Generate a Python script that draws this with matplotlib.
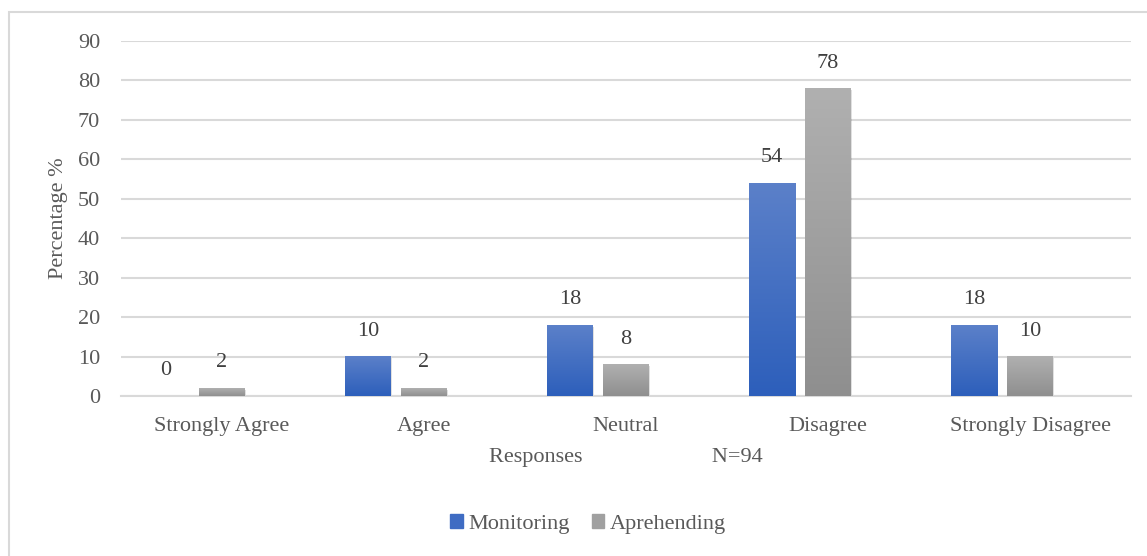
import numpy as np
import matplotlib
matplotlib.use('Agg')
import matplotlib.pyplot as plt
from matplotlib.patches import Rectangle

# 데이터
categories = ['Strongly Agree', 'Agree', 'Neutral', 'Disagree', 'Strongly Disagree']
monitoring = [0, 10, 18, 54, 18]
aprehending = [2, 2, 8, 78, 10]

plt.rcParams['font.family'] = ['Liberation Serif', 'DejaVu Serif']
txt = '#595959'
fs = 16

fig = plt.figure(figsize=(11.47, 5.56), dpi=100)
ax = fig.add_axes([121 / 1147, 160 / 556, 1010 / 1147, 355 / 556])

# 외곽 테두리
fig.patches.append(Rectangle((9 / 1147, -0.1), 1.2, (556 - 12) / 556 + 0.1,
                             transform=fig.transFigure, fill=False,
                             edgecolor='#d9d9d9', linewidth=1.5))

x = np.arange(len(categories))
w = 46 / 202
off = 56 / 202


def grad_bar(xc, h, top, bottom):
    if h <= 0:
        return
    c1 = np.array(matplotlib.colors.to_rgb(top))
    c2 = np.array(matplotlib.colors.to_rgb(bottom))
    t = np.linspace(0, 1, 64)[:, None]
    img = (c1 * (1 - t) + c2 * t)[:, None, :]
    # 그림자
    ax.bar(xc + 0.006, h, w, bottom=-0.4, color='#000000', alpha=0.12, zorder=2)
    ax.imshow(img, extent=[xc - w / 2, xc + w / 2, 0, h], aspect='auto',
              origin='upper', zorder=3, interpolation='bilinear')


for i in range(len(categories)):
    grad_bar(x[i] - off, monitoring[i], '#5b80c9', '#2d5fbb')
    grad_bar(x[i], aprehending[i], '#b0b0b0', '#8f8f8f')
    ax.text(x[i] - off, monitoring[i] + 6.4, str(monitoring[i]), ha='center',
            va='center', fontsize=fs, color='#404040')
    ax.text(x[i], aprehending[i] + 6.4, str(aprehending[i]), ha='center',
            va='center', fontsize=fs, color='#404040')

ax.set_xlim(-0.5, len(categories) - 0.5)
ax.set_ylim(0, 90)
ax.set_yticks(range(0, 91, 10))
ax.yaxis.grid(True, color='#d9d9d9', linewidth=1.5)
ax.set_axisbelow(True)
for s in ['top', 'right', 'left']:
    ax.spines[s].set_visible(False)
ax.spines['bottom'].set_color('#d9d9d9')
ax.spines['bottom'].set_linewidth(1.5)
ax.tick_params(axis='both', length=0, labelsize=fs, labelcolor=txt)
ax.tick_params(axis='y', pad=15)
ax.tick_params(axis='x', pad=15)
ax.set_xticks(x)
ax.set_xticklabels(categories)

ax.set_ylabel('Percentage %', fontsize=fs, color=txt, labelpad=7)
ax.set_xlabel('Responses                       N=94', fontsize=fs, color=txt, labelpad=9)

# 범례
h1 = Rectangle((0, 0), 1, 1, color='#3f6cc3')
h2 = Rectangle((0, 0), 1, 1, color='#a0a0a0')
fig.legend([h1, h2], ['Monitoring', 'Aprehending'], loc='center',
           bbox_to_anchor=(588 / 1147, 1 - 524 / 556), ncol=2, frameon=False,
           fontsize=fs, labelcolor=txt, handlelength=0.55, handleheight=0.55,
           handletextpad=0.25, columnspacing=1.0)

plt.savefig('out.png', dpi=100)
